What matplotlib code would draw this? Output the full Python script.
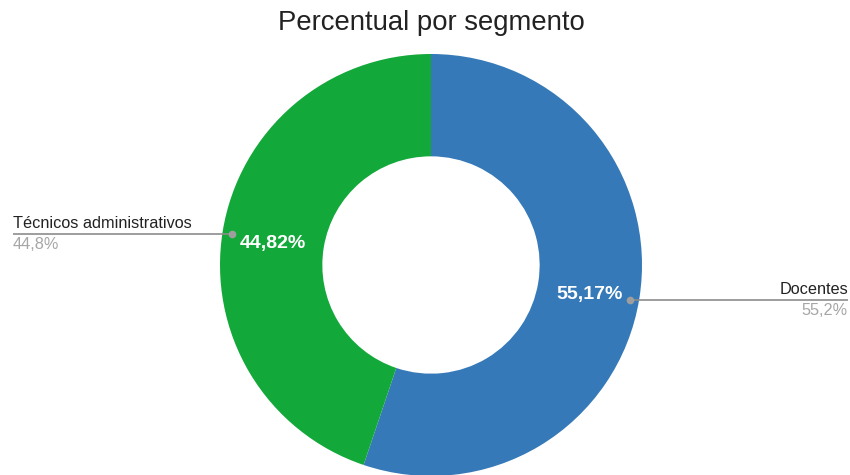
import numpy as np
import matplotlib.pyplot as plt

plt.rcParams['font.family'] = ['Liberation Sans', 'DejaVu Sans']

segmentos = ['Docentes', 'Técnicos administrativos']
percentuais = [55.17, 44.82]
rotulos_curto = ['55,2%', '44,8%']
cores = ['#3579b8', '#13a83a']

W, H = 850, 475
fig = plt.figure(figsize=(W / 100, H / 100), dpi=100)
ax = fig.add_axes([0, 0, 1, 1])

cx, cy, R = 431, H - 265, 211
wedges, _, autotexts = ax.pie(
    percentuais, colors=cores, startangle=90, counterclock=False,
    center=(cx, cy), radius=R, autopct='%.2f%%',
    pctdistance=0.76, wedgeprops=dict(width=R * 0.485, linewidth=0),
    textprops=dict(color='white', fontsize=14, fontweight='bold'))
ax.set_xlim(0, W)
ax.set_ylim(0, H)
ax.set_aspect('equal')
ax.axis('off')

# vírgula decimal, como no original
for t, v in zip(autotexts, percentuais):
    t.set_text(f'{v:.2f}%'.replace('.', ','))
    x, y = t.get_position()
    t.set_position((x, y - 4))

for w, nome, curto in zip(wedges, segmentos, rotulos_curto):
    ang = np.deg2rad((w.theta1 + w.theta2) / 2)
    px, py = cx + 0.955 * R * np.cos(ang), cy + 0.955 * R * np.sin(ang) - 2
    if np.cos(ang) >= 0:
        xe, ha = W - 2, 'right'
    else:
        xe, ha = 13, 'left'
    ax.plot([px, xe], [py, py], color='#8c8c8c', lw=1.2, solid_capstyle='butt')
    ax.plot(px, py, 'o', color='#9e9e9e', ms=4.5)
    ax.text(xe, py + 6, nome, ha=ha, va='baseline', fontsize=11.7, color='#222222')
    ax.text(xe, py - 3, curto, ha=ha, va='top', fontsize=11.7, color='#a6a6a6')

fig.text(431 / W, 1 - 23 / H, 'Percentual por segmento', ha='center', va='center',
         fontsize=19.8, color='#222222')

fig.savefig('out.png', dpi=100)
